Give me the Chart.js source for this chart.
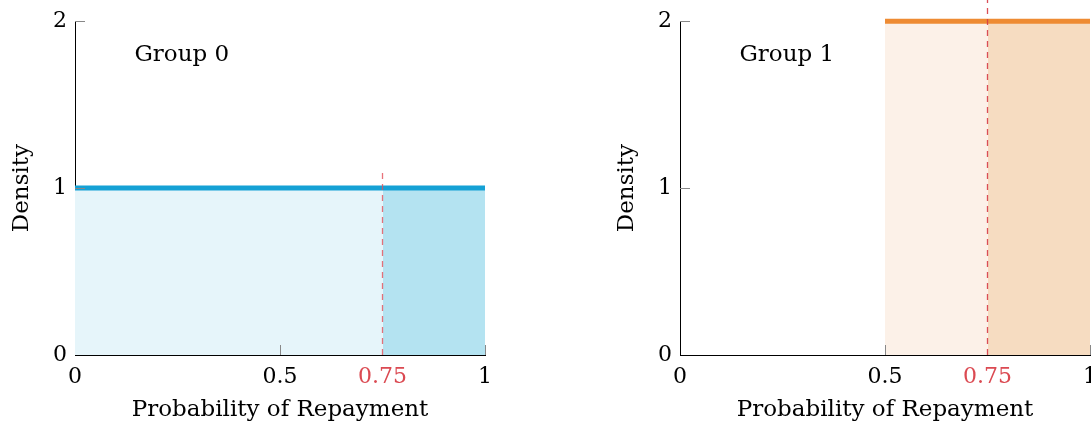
<!DOCTYPE html>
<html>
<head>
<meta charset="utf-8">
<script src="https://cdn.jsdelivr.net/npm/chart.js@4/dist/chart.umd.min.js"></script>
<style>
    html, body { margin: 0; padding: 0; background: #fff; width: 1091px; height: 427px; overflow: hidden; }
    .panel { position: absolute; top: 0; }
    #left { left: 0; }
    #right { left: 605px; }
</style>
</head>
<body>
<div class="panel" id="left"><canvas id="group0Chart" width="545" height="427"></canvas></div>
<div class="panel" id="right"><canvas id="group1Chart" width="545" height="427"></canvas></div>
<script>
// tick labels
const xTickValues = [0, 0.5, 0.75, 1];
const yTickValues = [0, 1, 2];
const threshold = 0.75;

// Group 0: uniform density on [0, 1]
const group0Edges = [0, 0.75, 1];
const group0Density = [1, 1, 1];
const group0CutoffTop = 1.1;

// Group 1: uniform density on [0.5, 1]
const group1Edges = [0.5, 0.75, 1];
const group1Density = [2, 2, 2];
const group1CutoffTop = 2.15;

Chart.defaults.font.family = '"DejaVu Serif", serif';
Chart.defaults.font.size = 22;
Chart.defaults.color = '#000';

const RED = '#db4a52';

// small ticks drawn inside the plot (pgfplots style) + group label
const innerTicks = {
    id: 'innerTicks',
    afterDatasetsDraw(chart, args, opts) {
        const ctx = chart.ctx;
        const xs = chart.scales.x, ys = chart.scales.y;
        const area = chart.chartArea;
        ctx.save();
        ctx.strokeStyle = '#888';
        ctx.lineWidth = 1;
        [0.5, 1].forEach(v => {
            const px = Math.round(xs.getPixelForValue(v)) + 0.5;
            ctx.beginPath();
            ctx.moveTo(px, area.bottom);
            ctx.lineTo(px, area.bottom - 10);
            ctx.stroke();
        });
        [1, 2].forEach(v => {
            const py = Math.round(ys.getPixelForValue(v)) + 0.5;
            ctx.beginPath();
            ctx.moveTo(area.left, py);
            ctx.lineTo(area.left + 10, py);
            ctx.stroke();
        });
        ctx.fillStyle = '#000';
        ctx.font = '23px "DejaVu Serif", serif';
        ctx.textAlign = 'left';
        ctx.textBaseline = 'middle';
        ctx.fillText(opts.label, xs.getPixelForValue(0.145), ys.getPixelForValue(1.8));
        ctx.restore();
    }
};

function buildChart(canvasId, label, edges, density, cutoffTop, colors) {
    const pts = edges.map((x, i) => ({ x: x, y: density[i] }));
    const ctx = document.getElementById(canvasId).getContext('2d');
    return new Chart(ctx, {
        type: 'line',
        data: {
            datasets: [
                {
                    // cutoff marker
                    data: [{ x: threshold, y: 0 }, { x: threshold, y: cutoffTop }],
                    borderColor: colors.cutoff,
                    borderWidth: 1.3,
                    borderDash: [6, 5],
                    pointRadius: 0,
                    fill: false,
                    clip: false,
                    order: 0
                },
                {
                    // density line
                    data: pts,
                    borderColor: colors.line,
                    borderWidth: 5,
                    pointRadius: 0,
                    fill: false,
                    clip: false,
                    order: 1
                },
                {
                    // above threshold
                    data: pts.slice(1, 3),
                    borderWidth: 0,
                    borderColor: 'transparent',
                    backgroundColor: colors.dark,
                    pointRadius: 0,
                    fill: 'origin',
                    order: 2
                },
                {
                    // below threshold
                    data: pts.slice(0, 2),
                    borderWidth: 0,
                    borderColor: 'transparent',
                    backgroundColor: colors.light,
                    pointRadius: 0,
                    fill: 'origin',
                    order: 3
                }
            ]
        },
        options: {
            responsive: false,
            animation: false,
            layout: { padding: { top: 18, right: 60, left: 0, bottom: 0 } },
            plugins: {
                legend: { display: false },
                tooltip: { enabled: false },
                innerTicks: { label: label }
            },
            scales: {
                x: {
                    type: 'linear',
                    min: 0,
                    max: 1,
                    afterBuildTicks: (scale) => { scale.ticks = xTickValues.map(v => ({ value: v })); },
                    afterFit: (scale) => { scale.height = 72; },
                    grid: { drawOnChartArea: false, drawTicks: false },
                    border: { display: true, color: '#000', width: 1 },
                    ticks: {
                        autoSkip: false,
                        maxRotation: 0,
                        padding: 9,
                        color: (c) => c.tick && c.tick.value === threshold ? RED : '#000',
                        callback: (v) => String(v)
                    },
                    title: {
                        display: true,
                        text: 'Probability of Repayment',
                        font: { size: 23 },
                        padding: { top: 3, bottom: 3 }
                    }
                },
                y: {
                    type: 'linear',
                    min: 0,
                    max: 2,
                    afterBuildTicks: (scale) => { scale.ticks = yTickValues.map(v => ({ value: v })); },
                    afterFit: (scale) => { scale.width = 75; },
                    grid: { drawOnChartArea: false, drawTicks: false },
                    border: { display: true, color: '#000', width: 1 },
                    ticks: {
                        padding: 8,
                        callback: (v) => String(v)
                    },
                    title: {
                        display: true,
                        text: 'Density',
                        font: { size: 23 },
                        padding: { top: 8, bottom: 0 }
                    }
                }
            }
        },
        plugins: [innerTicks]
    });
}

buildChart('group0Chart', 'Group 0', group0Edges, group0Density, group0CutoffTop, {
    line: '#15a1d5',
    light: '#e6f5fa',
    dark: '#b4e3f1',
    cutoff: 'rgba(226, 80, 90, 0.8)'
});

buildChart('group1Chart', 'Group 1', group1Edges, group1Density, group1CutoffTop, {
    line: '#ee8b33',
    light: '#fcf1e8',
    dark: '#f6dcc1',
    cutoff: 'rgba(214, 60, 70, 0.9)'
});
</script>
</body>
</html>
